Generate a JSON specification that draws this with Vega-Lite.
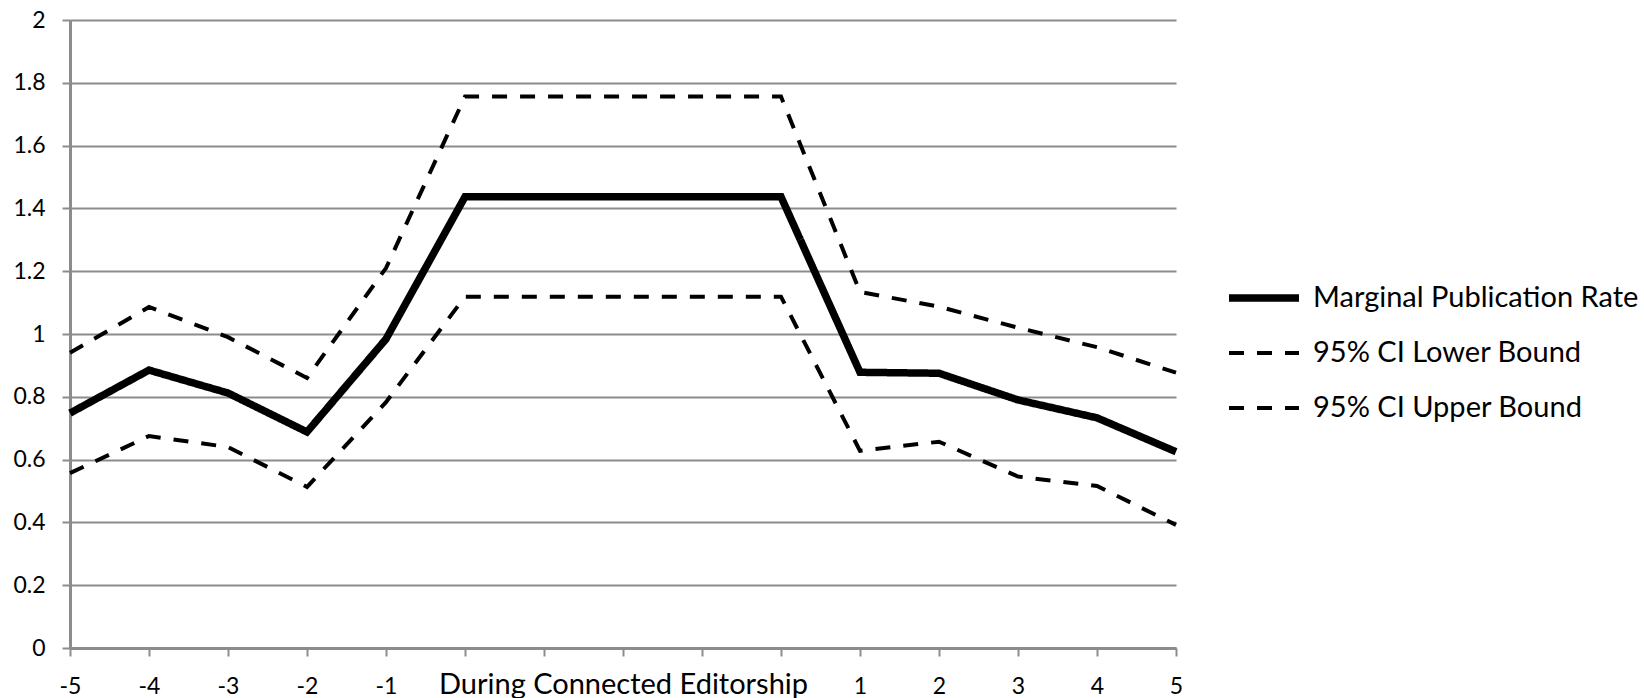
{
  "$schema": "https://vega.github.io/schema/vega-lite/v6.json",
  "width": 1106,
  "height": 628,
  "autosize": "none",
  "padding": {"left": 70, "top": 20, "right": 468, "bottom": 50},
  "background": "white",
  "config": {"view": {"stroke": null}, "font": "Lato"},
  "data": {"values": [
    {"t": 0, "series": "Marginal Publication Rate", "value": 0.748},
    {"t": 1, "series": "Marginal Publication Rate", "value": 0.885},
    {"t": 2, "series": "Marginal Publication Rate", "value": 0.812},
    {"t": 3, "series": "Marginal Publication Rate", "value": 0.688},
    {"t": 4, "series": "Marginal Publication Rate", "value": 0.984},
    {"t": 5, "series": "Marginal Publication Rate", "value": 1.437},
    {"t": 6, "series": "Marginal Publication Rate", "value": 1.437},
    {"t": 7, "series": "Marginal Publication Rate", "value": 1.437},
    {"t": 8, "series": "Marginal Publication Rate", "value": 1.437},
    {"t": 9, "series": "Marginal Publication Rate", "value": 1.437},
    {"t": 10, "series": "Marginal Publication Rate", "value": 0.878},
    {"t": 11, "series": "Marginal Publication Rate", "value": 0.875},
    {"t": 12, "series": "Marginal Publication Rate", "value": 0.79},
    {"t": 13, "series": "Marginal Publication Rate", "value": 0.733},
    {"t": 14, "series": "Marginal Publication Rate", "value": 0.625},
    {"t": 0, "series": "95% CI Lower Bound", "value": 0.557},
    {"t": 1, "series": "95% CI Lower Bound", "value": 0.675},
    {"t": 2, "series": "95% CI Lower Bound", "value": 0.64},
    {"t": 3, "series": "95% CI Lower Bound", "value": 0.513},
    {"t": 4, "series": "95% CI Lower Bound", "value": 0.783},
    {"t": 5, "series": "95% CI Lower Bound", "value": 1.119},
    {"t": 6, "series": "95% CI Lower Bound", "value": 1.119},
    {"t": 7, "series": "95% CI Lower Bound", "value": 1.119},
    {"t": 8, "series": "95% CI Lower Bound", "value": 1.119},
    {"t": 9, "series": "95% CI Lower Bound", "value": 1.119},
    {"t": 10, "series": "95% CI Lower Bound", "value": 0.628},
    {"t": 11, "series": "95% CI Lower Bound", "value": 0.657},
    {"t": 12, "series": "95% CI Lower Bound", "value": 0.546},
    {"t": 13, "series": "95% CI Lower Bound", "value": 0.516},
    {"t": 14, "series": "95% CI Lower Bound", "value": 0.392},
    {"t": 0, "series": "95% CI Upper Bound", "value": 0.94},
    {"t": 1, "series": "95% CI Upper Bound", "value": 1.086},
    {"t": 2, "series": "95% CI Upper Bound", "value": 0.99},
    {"t": 3, "series": "95% CI Upper Bound", "value": 0.86},
    {"t": 4, "series": "95% CI Upper Bound", "value": 1.21},
    {"t": 5, "series": "95% CI Upper Bound", "value": 1.756},
    {"t": 6, "series": "95% CI Upper Bound", "value": 1.756},
    {"t": 7, "series": "95% CI Upper Bound", "value": 1.756},
    {"t": 8, "series": "95% CI Upper Bound", "value": 1.756},
    {"t": 9, "series": "95% CI Upper Bound", "value": 1.756},
    {"t": 10, "series": "95% CI Upper Bound", "value": 1.134},
    {"t": 11, "series": "95% CI Upper Bound", "value": 1.087},
    {"t": 12, "series": "95% CI Upper Bound", "value": 1.02},
    {"t": 13, "series": "95% CI Upper Bound", "value": 0.958},
    {"t": 14, "series": "95% CI Upper Bound", "value": 0.877}
  ]},
  "mark": {"type": "line", "color": "black", "strokeJoin": "miter"},
  "encoding": {
    "x": {
      "field": "t", "type": "quantitative",
      "scale": {"domain": [0, 14], "nice": false, "zero": false},
      "axis": {
        "values": [0,1,2,3,4,5,6,7,8,9,10,11,12,13,14],
        "labelExpr": "datum.value == 7 ? 'During Connected Editorship' : datum.value < 5 ? '' + (datum.value - 5) : datum.value > 9 ? '' + (datum.value - 9) : ''",
        "grid": false,
        "domainColor": "#8c8c8c", "domainWidth": 3,
        "tickColor": "#8c8c8c", "tickWidth": 2, "tickSize": 8,
        "labelFont": "Lato",
        "labelFontSize": {"condition": {"test": "datum.value == 7", "value": 29}, "value": 23},
        "labelColor": "black",
        "labelPadding": 37,
        "labelBaseline": "alphabetic",
        "labelLimit": 0,
        "labelOverlap": false, "labelBound": false, "labelFlush": false,
        "title": null
      }
    },
    "y": {
      "field": "value", "type": "quantitative",
      "scale": {"domain": [0, 2], "nice": false},
      "axis": {
        "values": [0, 0.2, 0.4, 0.6, 0.8, 1, 1.2, 1.4, 1.6, 1.8, 2],
        "format": "~g",
        "grid": true, "gridColor": "#8c8c8c", "gridWidth": 2,
        "domainColor": "#8c8c8c", "domainWidth": 3,
        "tickColor": "#8c8c8c", "tickWidth": 2, "tickSize": 8,
        "labelFont": "Lato", "labelFontSize": 23, "labelColor": "black",
        "labelPadding": 17,
        "title": null
      }
    },
    "strokeDash": {
      "field": "series", "type": "nominal",
      "scale": {"type": "ordinal", "domain": ["Marginal Publication Rate", "95% CI Lower Bound", "95% CI Upper Bound"], "range": [[1, 0], [15, 13], [15, 13]]},
      "legend": {"orient": "none", "legendX": 1155, "legendY": 239, "title": null, "symbolType": "stroke", "symbolSize": 4900, "symbolStrokeColor": "black", "labelFont": "Lato", "labelFontSize": 29, "labelColor": "black", "labelOffset": 10, "rowPadding": 3, "padding": 0, "labelLimit": 0}
    },
    "strokeWidth": {
      "field": "series", "type": "nominal",
      "scale": {"type": "ordinal", "domain": ["Marginal Publication Rate", "95% CI Lower Bound", "95% CI Upper Bound"], "range": [7.5, 4, 4]},
      "legend": {"orient": "none", "legendX": 1155, "legendY": 239, "title": null, "symbolType": "stroke", "symbolSize": 4900, "symbolStrokeColor": "black", "labelFont": "Lato", "labelFontSize": 29, "labelColor": "black", "labelOffset": 10, "rowPadding": 3, "padding": 0, "labelLimit": 0}
    }
  }
}
